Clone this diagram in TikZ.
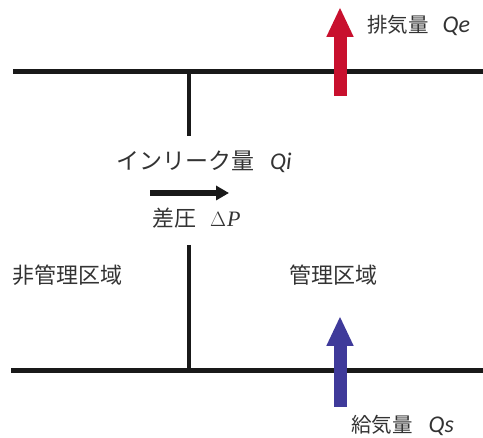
\documentclass[tikz,border=0pt]{standalone}
\usepackage{fontspec}
\setmainfont{Liberation Serif}
\newfontfamily\cjk{Noto Sans CJK JP}
\newfontfamily\qfont{Carlito}
\usetikzlibrary{arrows.meta}
\definecolor{exred}{HTML}{C8102E}
\definecolor{supblue}{HTML}{3F3A9A}
\newcommand{\qv}[1]{{\qfont\itshape\fontsize{24}{26}\selectfont #1}}
\tikzset{
  wall/.style={line width=5pt, draw=black!90},
  lbl/.style={font=\cjk\fontsize{20.5}{22}\selectfont, text=black!80, inner sep=0pt, anchor=west},
  flow/.style={line width=13pt, -{Triangle[width=25pt,length=30pt]}},
}
\begin{document}
\begin{tikzpicture}[x=1pt,y=-1pt]
\useasboundingbox (0,0) rectangle (483,438);
\coordinate (tl) at (13,72);
\coordinate (tr) at (483,72);
\coordinate (bl) at (11,371);
\coordinate (br) at (483,371);
\coordinate (vt) at (189,72);
\coordinate (vtm) at (189,136);
\coordinate (vbm) at (189,245);
\coordinate (vb) at (189,371);
\draw[wall] (tl) -- (tr);
\draw[wall] (bl) -- (br);
\draw[line width=4.5pt, draw=black!90] (vt) -- (vtm);
\draw[line width=4.5pt, draw=black!90] (vbm) -- (vb);
% exhaust
\coordinate (e0) at (340,96);
\coordinate (e1) at (340,7);
\draw[flow, draw=exred, fill=exred] (e0) -- (e1);
% supply
\coordinate (s0) at (340,407);
\coordinate (s1) at (340,316);
\draw[flow, draw=supblue, fill=supblue] (s0) -- (s1);
% inleak arrow
\coordinate (i0) at (150,193);
\coordinate (i1) at (229,193);
\draw[line width=5.5pt, draw=black!90, -{Triangle[width=14pt,length=13pt]}] (i0) -- (i1);
% labels
\node[lbl] (qe) at (367,25) {排気量\hspace{14pt}\qv{Qe}};
\node[lbl, font=\cjk\fontsize{23}{25}\selectfont] (qi) at (116,162) {インリーク量\hspace{16pt}\qv{Qi}};
\node[lbl, font=\cjk\fontsize{22}{24}\selectfont] (dp) at (152,218) {差圧\hspace{14pt}{\rmfamily\fontsize{22}{24}\selectfont$\Delta$\hspace{1pt}\itshape P}};
\node[lbl, font=\cjk\fontsize{22}{24}\selectfont] (nc) at (12,275) {非管理区域};
\node[lbl, font=\cjk\fontsize{22}{24}\selectfont] (cz) at (289,275) {管理区域};
\node[lbl] (qs) at (351,425) {給気量\hspace{16pt}\qv{Qs}};
\end{tikzpicture}
\end{document}
